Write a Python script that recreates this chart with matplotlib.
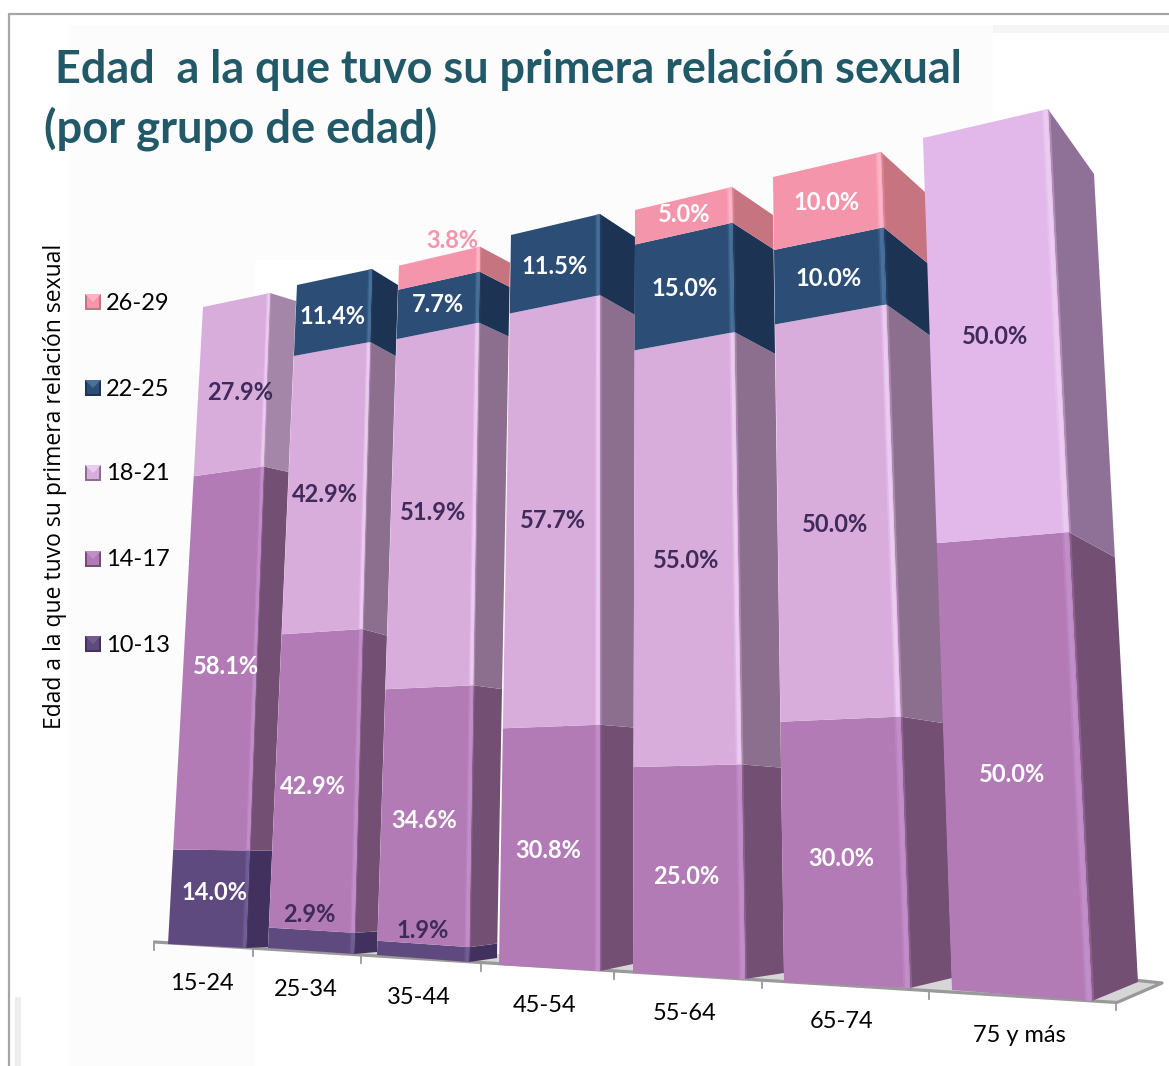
import numpy as np
import matplotlib
matplotlib.use("Agg")
import matplotlib.pyplot as plt
from matplotlib.patches import Polygon, Rectangle
from matplotlib.transforms import Transform

# chart values (percent of each age group)
groups = ['15-24', '25-34', '35-44', '45-54', '55-64', '65-74', '75 y más']
series_names = ['10-13', '14-17', '18-21', '22-25', '26-29']
s_10_13 = [14.0, 2.9, 1.9, 0, 0, 0, 0]
s_14_17 = [58.1, 42.9, 34.6, 30.8, 25.0, 30.0, 50.0]
s_18_21 = [27.9, 42.9, 51.9, 57.7, 55.0, 50.0, 50.0]
s_22_25 = [0, 11.4, 7.7, 11.5, 15.0, 10.0, 0]
s_26_29 = [0, 0, 3.8, 0, 5.0, 10.0, 0]
all_series = [s_10_13, s_14_17, s_18_21, s_22_25, s_26_29]

# colours per series: front, side, edge highlight
front_cols = ['#5F4A80', '#B27BB6', '#D8ADDC', '#2C4D75', '#F595AB']
side_cols = ['#42305F', '#734F74', '#8C6F8F', '#1C3354', '#C57480']
light_cols = ['#715C96', '#C28ECA', '#EBCBF2', '#47709A', '#FFB4C6']
DARK = '#3F2A5A'
PINK = '#F595AB'

# pixel layout of the perspective: bottom-left, bottom-right, top-right, top-left
front_quads = [
    [(168, 944), (246, 948), (270, 293), (203, 307)],
    [(268, 948), (354, 954), (372, 269), (297, 285)],
    [(377, 955), (469, 962), (480, 246), (399, 265)],
    [(499, 965), (600, 971), (600, 214), (511, 235)],
    [(633, 973), (745, 979), (732, 187), (635, 210)],
    [(784, 982), (910, 988), (881, 152), (773, 177)],
    [(952, 990), (1092, 1001), (1048, 109), (923, 138)],
]
side_right = [
    [(268, 947), (296, 301)],
    [(377, 952), (398, 285)],
    [(497, 958), (510, 262)],
    [(633, 964), (635, 237)],
    [(784, 973), (773, 215)],
    [(952, 978), (926, 193)],
    [(1138, 982), (1094, 174)],
]
# softens the height compression of the plain quad mapping, per bar
warps = [0.91, 0.92, 0.955, 0.95, 0.965, 0.965, 1.0]

# label centres in pixels, one list per bar, bottom to top
label_pos = [
    [(214, 893), (226, 666), (240, 392)],
    [(309, 915), (313, 786), (325, 494), (332, 316)],
    [(423, 931), (424, 821), (433, 513), (438, 305), (452, 241)],
    [(548, 851), (553, 520), (555, 267)],
    [(686, 876), (686, 560), (685, 288), (684, 215)],
    [(841, 859), (835, 524), (829, 278), (827, 202)],
    [(1012, 775), (995, 337)],
]
label_cols = [
    ['white', 'white', DARK],
    [DARK, 'white', DARK, 'white'],
    [DARK, 'white', DARK, 'white', PINK],
    ['white', DARK, 'white'],
    ['white', DARK, 'white', 'white'],
    ['white', DARK, 'white', 'white'],
    ['white', DARK],
]
tick_label_pos = [(202, 984), (306, 990), (419, 997), (545, 1005), (685, 1013), (842, 1022), (1019, 1035)]
tick_x = [154, 253, 361, 481, 614, 762, 929, 1116]
legend_y = [644, 559, 473, 388, 302]


def solve_homography(quad):
    # maps (u, value) with u in 0..1 and value in 0..100 onto the quad
    src = [(0, 0), (1, 0), (1, 100), (0, 100)]
    A, b = [], []
    for (x, y), (px, py) in zip(src, quad):
        A.append([x, y, 1, 0, 0, 0, -x * px, -y * px])
        A.append([0, 0, 0, x, y, 1, -x * py, -y * py])
        b += [px, py]
    h = np.linalg.solve(np.array(A, float), np.array(b, float))
    return np.append(h, 1).reshape(3, 3)


class Front(Transform):
    input_dims = 2
    output_dims = 2
    is_separable = False

    def __init__(self, quad, warp):
        super().__init__()
        self.H = solve_homography(quad)
        self.warp = warp

    def transform_non_affine(self, values):
        values = np.asarray(values, float)
        f = values[:, 1] / 100
        warped = 100 * self.warp * f / (1 + (self.warp - 1) * f)
        xy = np.column_stack([values[:, 0], warped, np.ones(len(values))])
        pts = xy @ self.H.T
        return pts[:, :2] / pts[:, 2:]


class Side(Transform):
    # left edge follows the front's right edge, far edge keeps the same height fraction
    input_dims = 2
    output_dims = 2
    is_separable = False

    def __init__(self, front, quad, far):
        super().__init__()
        self.front = front
        self.y0, self.y1 = quad[1][1], quad[2][1]
        self.far0, self.far1 = np.array(far[0], float), np.array(far[1], float)

    def transform_non_affine(self, values):
        values = np.asarray(values, float)
        near = self.front.transform_non_affine(np.column_stack([np.ones(len(values)), values[:, 1]]))
        t = (near[:, 1] - self.y0) / (self.y1 - self.y0)
        far = self.far0 + t[:, None] * (self.far1 - self.far0)
        return near + values[:, :1] * (far - near)


def quad_patch(u0, u1, v0, v1, **kw):
    return Polygon([(u0, v0), (u1, v0), (u1, v1), (u0, v1)], edgecolor='none', **kw)


plt.rcParams['font.family'] = ['Lato', 'DejaVu Sans']
fig = plt.figure(figsize=(11.69, 10.66), dpi=100)
ax = fig.add_axes([0, 0, 1, 1])
ax.set_xlim(0, 1169)
ax.set_ylim(1066, 0)
ax.axis('off')

# faint slide panels and frame
ax.add_patch(Rectangle((68, 25), 925, 235, color='#FCFCFC', lw=0, zorder=0))
ax.add_patch(Rectangle((68, 25), 187, 1041, color='#FCFCFC', lw=0, zorder=0))
ax.add_patch(Rectangle((993, 25), 176, 8, color='#F5F5F5', lw=0, zorder=0))
ax.add_patch(Rectangle((15, 997), 6, 69, color='#EDEDED', lw=0, zorder=0))
ax.plot([9, 9, 1169], [1066, 14, 14], color='#A6A6A6', lw=1.6, zorder=1)

# floor
ax.add_patch(Polygon([(155, 942), (1117, 1002.5), (1162, 983), (1138, 980), (168, 941)],
                     facecolor='#D6D6D6', edgecolor='none', zorder=1))
ax.plot([155, 1117, 1162, 1138], [942, 1002.5, 983, 980.5], color='#999999', lw=2.3, zorder=1.5)
for x in tick_x:
    y = 942 + (x - 155) * 60.5 / 962
    ax.plot([x, x], [y, y + 8], color='#999999', lw=1.3, zorder=1.5)

# bars, left to right so each front hides the previous side
for i in range(len(groups)):
    fq = front_quads[i]
    front_tr = Front(fq, warps[i])
    tf = front_tr + ax.transData
    ts = Side(front_tr, fq, side_right[i]) + ax.transData
    z = 2 + i
    bottom = 0
    for k, s in enumerate(all_series):
        v = s[i]
        if v == 0:
            continue
        top = min(bottom + v, 100)
        fc, sc = front_cols[k], side_cols[k]
        # the tall light bar at the right is paler, the first bar's side as well
        if k == 2 and i == 6:
            fc, sc = '#E1B8E9', '#8F7097'
        if k == 2 and i == 0:
            sc = '#A486A8'
        ax.add_patch(quad_patch(0, 1, bottom, top, transform=ts, facecolor=sc, zorder=z))
        ax.add_patch(quad_patch(0, 0.05, bottom, top, transform=ts, facecolor=fc, alpha=0.4, zorder=z + 0.1))
        ax.add_patch(quad_patch(0, 1, bottom, top, transform=tf, facecolor=fc, zorder=z + 0.2))
        ax.add_patch(quad_patch(0.95, 1, bottom, top, transform=tf, facecolor=light_cols[k], alpha=0.45, zorder=z + 0.3))
        ax.add_patch(quad_patch(0.965, 0.995, bottom, top, transform=tf, facecolor=light_cols[k], zorder=z + 0.4))
        bottom = top

# value labels
for i in range(len(groups)):
    vals = [s[i] for s in all_series if s[i] > 0]
    for v, (x, y), c in zip(vals, label_pos[i], label_cols[i]):
        ax.text(x, y, f'{v:.1f}%', color=c, fontsize=17, fontweight='bold',
                ha='center', va='center', zorder=20)

# category labels
for g, (x, y) in zip(groups, tick_label_pos):
    ax.text(x, y, g, fontsize=17, color='black', ha='center', va='center', zorder=20)

# legend with small bevelled squares
for name, y, fc, sc, lc in zip(series_names, legend_y, front_cols, side_cols, light_cols):
    ax.add_patch(Rectangle((85, y - 8), 16, 16, facecolor=sc, edgecolor='none', zorder=5))
    ax.add_patch(Polygon([(87, y - 6), (99, y - 6), (99, y + 6), (87, y + 6)], facecolor=fc,
                         edgecolor='none', zorder=6))
    ax.add_patch(Polygon([(85, y - 8), (101, y - 8), (93, y)], facecolor=lc, edgecolor='none', zorder=7))
    ax.text(106, y + 1, name, fontsize=17, color='black', ha='left', va='center', zorder=20)

# axis title and chart title
ax.text(55, 486, 'Edad a la que tuvo su primera relación sexual', rotation=90, fontsize=16.5,
        family=['Open Sans', 'DejaVu Sans'], color='black', ha='center', va='center', zorder=20)
ax.text(55, 70, 'Edad  a la que tuvo su primera relación sexual', fontsize=32.4, fontweight='bold',
        color='#215968', ha='left', va='center', zorder=20)
ax.text(44, 129, '(por grupo de edad)', fontsize=32.7, fontweight='bold',
        color='#215968', ha='left', va='center', zorder=20)

fig.savefig('out.png', dpi=100)
